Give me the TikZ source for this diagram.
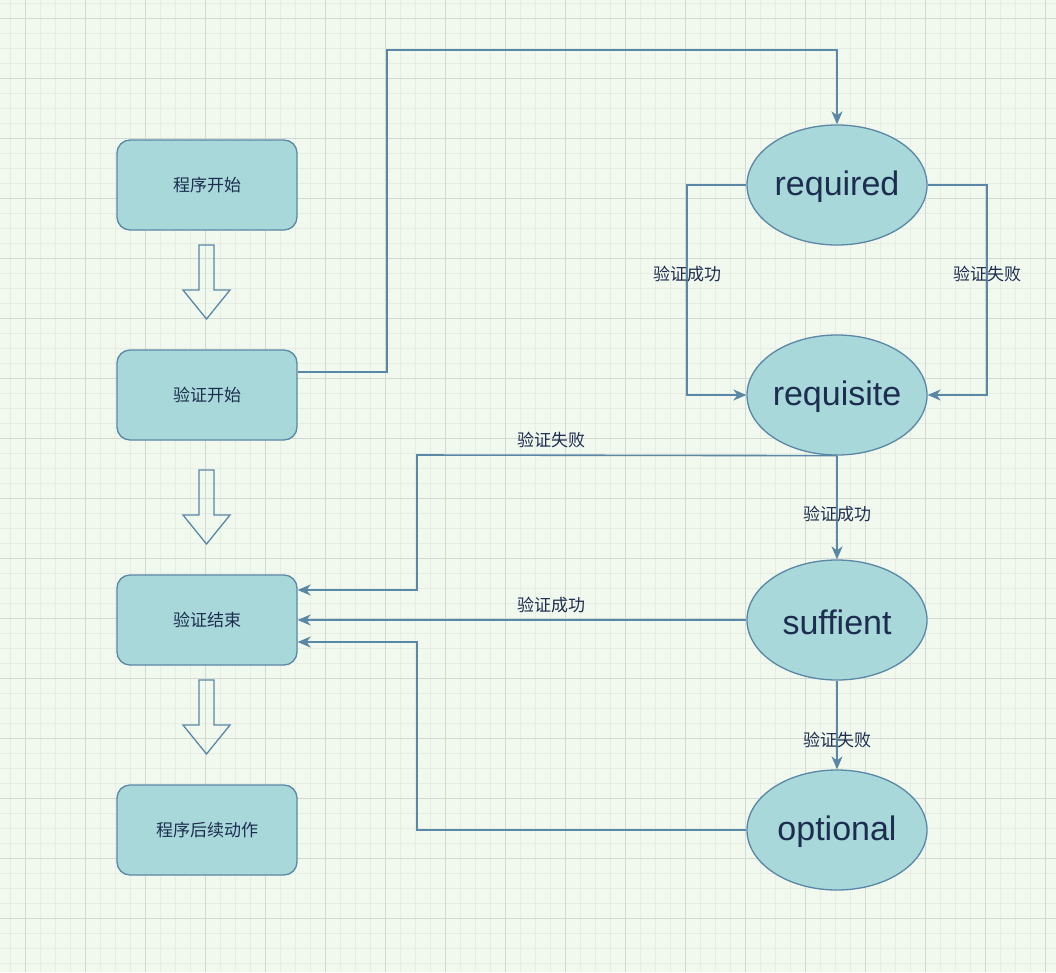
\documentclass[tikz,border=0pt]{standalone}
\usepackage{fontspec}
\setmainfont{Liberation Sans}
\newfontfamily\cjk{Noto Sans CJK SC}
\usetikzlibrary{arrows.meta,shapes.geometric}
\definecolor{bg}{HTML}{F1F8EE}
\definecolor{gridminor}{HTML}{E6EEE4}
\definecolor{gridmajor}{HTML}{D2D8D2}
\definecolor{boxfill}{HTML}{A8D8DA}
\definecolor{stroke}{HTML}{5A87A6}
\definecolor{txt}{HTML}{1C2D4F}
\tikzset{
  box/.style={draw=stroke, fill=boxfill, line width=1.3pt, rounded corners=13pt,
    minimum width=180pt, minimum height=90pt, inner sep=0pt,
    font=\cjk\fontsize{17pt}{20pt}\selectfont, text=txt},
  oval/.style={ellipse, draw=stroke, fill=boxfill, line width=1.3pt,
    minimum width=180pt, minimum height=120pt, inner sep=0pt,
    font=\fontsize{34pt}{38pt}\selectfont, text=txt},
  lbl/.style={font=\cjk\fontsize{17pt}{20pt}\selectfont, text=txt, inner sep=0pt},
  conn/.style={draw=stroke, line width=1.6pt, -{Stealth[length=13pt,width=11pt,inset=4pt]}},
  blockarrow/.style={draw=stroke, line width=1.3pt, line join=miter},
}
\begin{document}
\begin{tikzpicture}[x=1pt,y=-1pt]
\useasboundingbox (0,0) rectangle (1056,972);
\fill[bg] (0,0) rectangle (1056,972);
\foreach \x in {10,25,...,1055} \draw[gridminor, line width=1pt] (\x,0) -- (\x,972);
\foreach \y in {3,18,...,971} \draw[gridminor, line width=1pt] (0,\y) -- (1056,\y);
\foreach \x in {25,85,...,1055} \draw[gridmajor, line width=1pt] (\x,0) -- (\x,972);
\foreach \y in {18,78,...,971} \draw[gridmajor, line width=1pt] (0,\y) -- (1056,\y);

% left boxes
\node[box] (s) at (207,185) {程序开始};
\node[box] (v) at (207,395) {验证开始};
\node[box] (e) at (207,620) {验证结束};
\node[box] (p) at (207,830) {程序后续动作};

% block arrows
\foreach \t in {245,470,680}{
  \draw[blockarrow] (199,\t) -- (214,\t) -- (214,\t+45) -- (230,\t+45) -- (206.5,\t+74)
    -- (183,\t+45) -- (199,\t+45) -- cycle;
}

% ellipses
\node[oval] (r) at (837,185) {};
\node[oval] (q) at (837,395) {};
\node[oval] (sf) at (837,620) {};
\node[oval] (o) at (837,830) {};
\node[font=\fontsize{34pt}{38pt}\selectfont, text=txt] (rt) at (837,187) {required};
\node[font=\fontsize{34pt}{38pt}\selectfont, text=txt] (qt) at (837,397) {requisite};
\node[font=\fontsize{34pt}{38pt}\selectfont, text=txt] (st) at (837,622) {suffient};
\node[font=\fontsize{34pt}{38pt}\selectfont, text=txt] (ot) at (837,832) {optional};

% connectors
\draw[conn] ([yshift=23pt]v.east) -- (387,372) -- (387,50) -| (r.north);
\draw[conn] (r.west) -- (687,185) -- (687,395) -- (q.west);
\draw[conn] (r.east) -- (987,185) -- (987,395) -- (q.east);
\draw[conn] (q.south) -- (417,455) -- (417,590) -- ([yshift=30pt]e.east);
\draw[conn] (q.south) -- (sf.north);
\draw[conn] (sf.west) -- (e.east);
\draw[conn] (sf.south) -- (o.north);
\draw[conn] (o.west) -- (417,830) -- (417,642) -- ([yshift=-22pt]e.east);

% labels
\node[lbl] (l1) at (687,274) {验证成功};
\node[lbl] (l2) at (987,274) {验证失败};
\node[lbl] (l3) at (551,440) {验证失败};
\node[lbl] (l4) at (837,514) {验证成功};
\node[lbl] (l5) at (551,605) {验证成功};
\node[lbl] (l6) at (837,740) {验证失败};
\end{tikzpicture}
\end{document}
